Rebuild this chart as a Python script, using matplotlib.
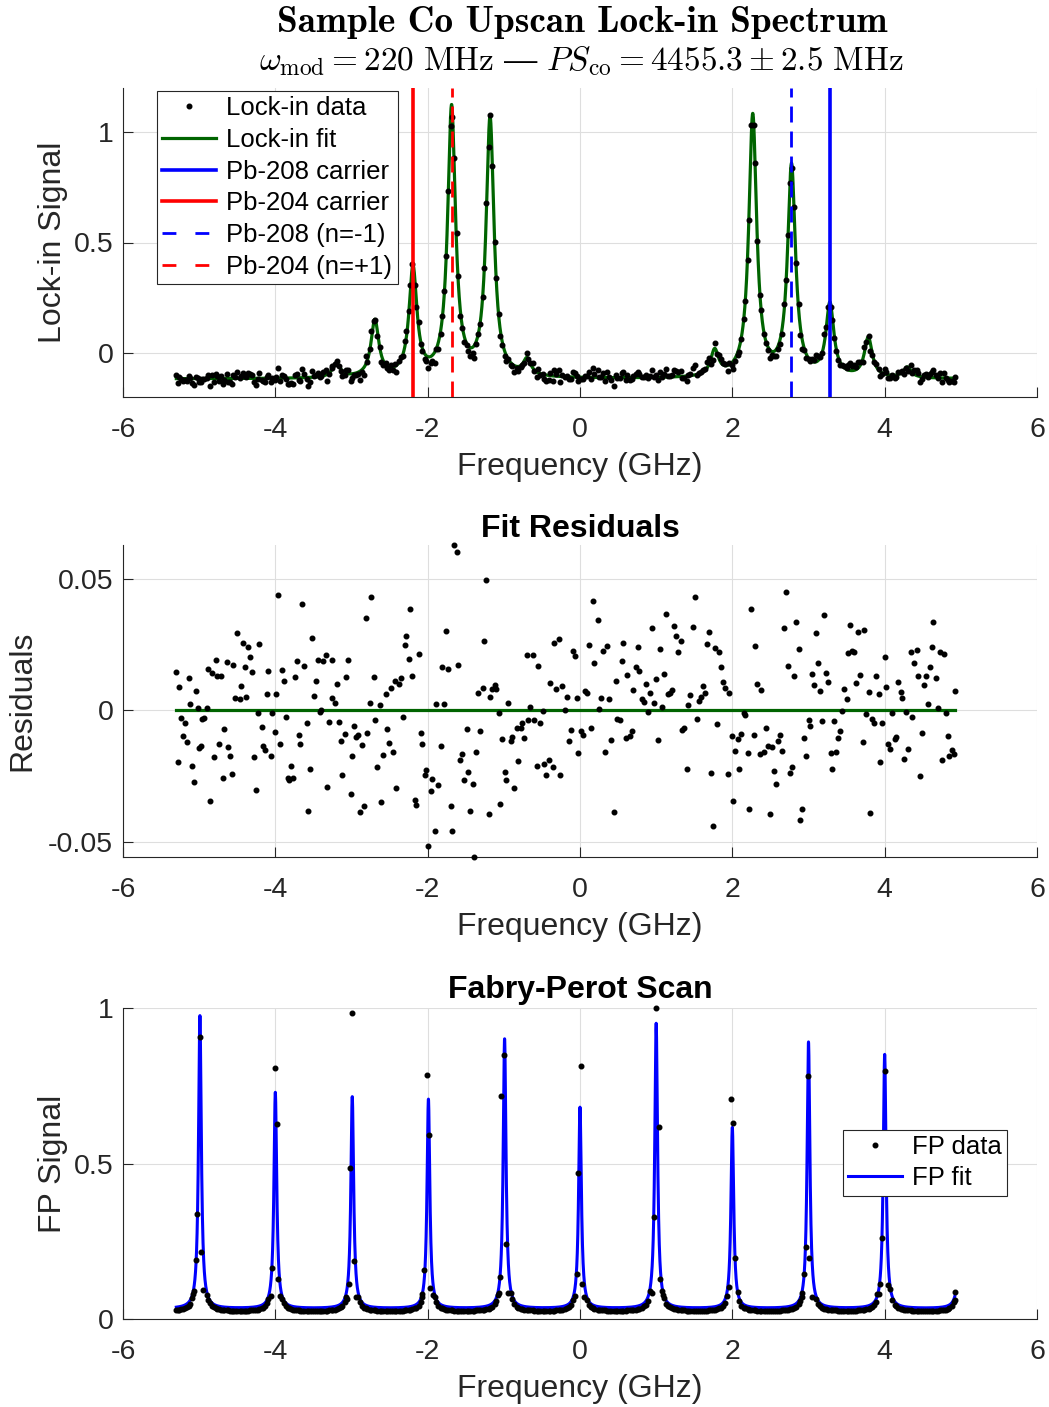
import numpy as np
import matplotlib
matplotlib.use("Agg")
import matplotlib.pyplot as plt
from matplotlib.lines import Line2D
from matplotlib.ticker import FuncFormatter

plt.rcParams["font.family"] = ["Liberation Sans", "DejaVu Sans"]
plt.rcParams["axes.unicode_minus"] = False
plt.rcParams["mathtext.fontset"] = "cm"
plt.rcParams["lines.scale_dashes"] = False

INK = "#262626"
GREEN = "#006400"

# scan frequencies (GHz)
freq = np.array([
    -5.30, -5.28, -5.26, -5.24, -5.21, -5.18, -5.16, -5.14, -5.12, -5.09, -5.07, -5.04,
    -5.02, -5.00, -4.98, -4.96, -4.93, -4.90, -4.88, -4.86, -4.83, -4.81, -4.78, -4.76,
    -4.74, -4.71, -4.69, -4.67, -4.64, -4.62, -4.60, -4.57, -4.55, -4.53, -4.50, -4.47,
    -4.45, -4.43, -4.40, -4.38, -4.36, -4.33, -4.31, -4.28, -4.26, -4.23, -4.21, -4.18,
    -4.16, -4.14, -4.11, -4.09, -4.06, -4.04, -4.01, -3.99, -3.97, -3.94, -3.91, -3.89,
    -3.86, -3.84, -3.82, -3.79, -3.77, -3.74, -3.72, -3.69, -3.67, -3.65, -3.62,
    -3.59, -3.57, -3.54, -3.52, -3.49, -3.47, -3.44, -3.42, -3.40, -3.37, -3.34, -3.32,
    -3.29, -3.26, -3.25, -3.22, -3.19, -3.17, -3.14, -3.12, -3.09, -3.07, -3.04, -3.01,
    -2.99, -2.97, -2.94, -2.91, -2.89, -2.86, -2.83, -2.81, -2.79, -2.76, -2.74, -2.71,
    -2.69, -2.66, -2.63, -2.61, -2.58, -2.55, -2.53, -2.51, -2.48, -2.45, -2.43, -2.41,
    -2.38, -2.35, -2.33, -2.30, -2.28, -2.25, -2.23, -2.20, -2.17, -2.15, -2.12, -2.09,
    -2.07, -2.04, -2.02, -1.99,
    -1.96, -1.94, -1.91, -1.89, -1.86, -1.83, -1.81, -1.78, -1.76, -1.73, -1.70, -1.68,
    -1.65, -1.62, -1.60, -1.57, -1.55, -1.52, -1.49, -1.47, -1.44, -1.41, -1.39, -1.36,
    -1.34, -1.31, -1.28, -1.26, -1.23, -1.20, -1.18, -1.15, -1.12, -1.10, -1.07, -1.05,
    -1.02, -0.99, -0.97, -0.94, -0.91, -0.89, -0.86, -0.83, -0.81, -0.78, -0.76, -0.73,
    -0.70, -0.68, -0.65, -0.62, -0.60, -0.57, -0.55, -0.52, -0.49, -0.47, -0.44, -0.41,
    -0.39, -0.36, -0.34, -0.31, -0.28, -0.26, -0.23,
    -0.20, -0.17, -0.15, -0.12, -0.09, -0.07, -0.04, -0.02, 0.01, 0.04, 0.06, 0.09,
    0.12, 0.14, 0.17, 0.19, 0.23, 0.25, 0.28, 0.30, 0.33, 0.36, 0.38, 0.41,
    0.44, 0.47, 0.49, 0.52, 0.55, 0.57, 0.60, 0.62, 0.65, 0.68, 0.70, 0.73,
    0.76, 0.78, 0.81, 0.84, 0.86, 0.89, 0.92, 0.94, 0.97, 1.00, 1.02, 1.05,
    1.08, 1.10, 1.13, 1.16, 1.18, 1.21, 1.23, 1.26, 1.29, 1.32, 1.34, 1.37,
    1.40, 1.42, 1.45, 1.48, 1.51,
    1.53, 1.56, 1.59, 1.61, 1.64, 1.67, 1.69, 1.72, 1.75, 1.77, 1.80, 1.83,
    1.85, 1.88, 1.90, 1.94, 1.96, 1.99, 2.01, 2.04, 2.07, 2.09, 2.12, 2.15,
    2.17, 2.20, 2.22, 2.25, 2.28, 2.30, 2.33, 2.36, 2.38, 2.41, 2.44, 2.47,
    2.49, 2.52, 2.55, 2.57, 2.60, 2.62, 2.65, 2.68, 2.70, 2.73, 2.76, 2.78,
    2.81, 2.84, 2.87, 2.89, 2.92, 2.94, 2.97, 3.00, 3.02, 3.05, 3.07, 3.10,
    3.13, 3.15, 3.18, 3.21,
    3.23, 3.26, 3.29, 3.31, 3.34, 3.36, 3.39, 3.42, 3.44, 3.47, 3.50, 3.52,
    3.55, 3.57, 3.60, 3.63, 3.65, 3.68, 3.71, 3.73, 3.76, 3.79, 3.81, 3.84,
    3.86, 3.89, 3.92, 3.94, 3.97, 4.00, 4.02, 4.05, 4.07, 4.10, 4.13, 4.15,
    4.18, 4.21, 4.23, 4.26, 4.28, 4.31, 4.34, 4.36, 4.39, 4.42, 4.44, 4.46,
    4.49, 4.52, 4.54, 4.57, 4.59, 4.62, 4.64, 4.67, 4.70, 4.72, 4.75, 4.78,
    4.80, 4.83, 4.85, 4.88, 4.91, 4.92,
])

# lock-in data minus fit, in units of 1e-3
resid_milli = np.array([
    14.4, -19.6, 8.9, -2.8, -9.9, -4.7, -12.1, 12.2, 2.2, -21.2,
    -27.2, 7.3, 0.8, -14.5, -13.5, -3.3, -3.1, 0.9, 15.5, -34.5,
    14.2, -17.9, 19.1, 13.0, -12.9, 12.9, -26.0, -7.0, 18.2, -14.1,
    -17.3, -24.4, 17.3, 4.7, 29.3, 4.1, 9.3, 25.6, 16.3, 5.1,
    24.0, 20.4, 14.5, -17.9, -30.4, -0.9, 25.3, -6.5, -13.6, -15.3,
    6.1, 14.9, -17.6, -0.9, -8.4, 6.2, 43.8, -13.0, 15.3, 11.2,
    -2.7, -26.0, -26.5, -21.4, -25.7, 12.5, 18.6, -9.3, -12.7, 40.6, 17.0,
    -4.7, -38.4, -22.5, 27.5, 5.5, 11.3, 19.2, -0.8, 0.0, 18.8,
    21.2, -29.4, -4.6, 19.1, 4.5, 2.7, 9.9, -4.6, -11.7, -24.8,
    -8.9, 12.6, 19.1, -31.9, -17.4, -6.2, -10.3, -9.3, -38.7, -13.2,
    -36.3, 35.1, -8.5, 2.9, 43.0, 12.6, -3.7, -21.5, 1.9, -35.0,
    -17.0, 6.2, -7.3, -12.6, 8.5, -15.9, 11.3, -29.6, 9.8, 12.2,
    -2.7, 24.7, 28.2, 19.5, 38.4, 13.1, -34.2, -36.1, 21.4, -8.7, -12.7, -24.6, -22.9, -51.9,
    -30.7, -26.2, -45.9, 2.5, -28.5, -13.6, 16.3, 2.5, 30.0, 15.8,
    -36.6, -45.9, 62.9, 60.4, 17.3, -19.1, -16.5, -26.6, -7.1, -23.5,
    -38.2, -28.0, -55.9, -15.8, 6.6, -8.0, 8.4, 26.5, 49.4, -39.7,
    5.1, 8.1, 9.7, 8.0, -1.0, -35.8, -11.1, -23.4, -26.6, 2.9,
    -11.8, -10.2, -29.8, -6.9, -19.2, -6.6, -5.0, -10.6, 21.2, -3.7,
    1.3, 21.0, -3.7, -21.1, 16.8, -4.8, -0.3, -20.6, -24.7, -19.1,
    10.3, -21.5, 25.6, 8.1, 27.1, -24.6, 9.3,
    0.0, 5.0, -11.8, -7.5, 22.4, 20.6, 4.7, -16.2, -7.9, -9.4,
    7.3, 6.5, 24.9, -6.7, 41.7, 17.8, 34.4, 0.6, 4.5, 22.6,
    -15.9, 24.6, 4.3, -11.3, -38.8, 11.1, -3.4, -3.9, 18.7, 25.4,
    -10.7, 13.4, -9.7, -7.8, 7.6, 16.4, 24.0, 15.1, 4.2, 3.2,
    9.8, -0.5, 6.6, 31.4, 2.9, 11.7, -11.3, 23.4, 1.4, 13.7,
    36.5, 6.0, 6.7, 7.5, 31.9, 28.1, 22.3, 26.5, -7.4, -6.7,
    -22.3, 1.8, 5.9, 31.8, 43.0,
    -3.4, 3.6, 5.2, 9.4, 6.4, 25.3, 29.9, -23.9, -44.0, 23.7,
    -5.1, 22.3, 16.3, 10.9, 8.3, -24.4, 6.4, -9.8, -34.4, -15.6,
    -11.1, -22.3, -9.2, -1.0, -1.9, -16.2, -37.5, 38.6, -9.4, 24.4,
    10.1, -16.7, 7.8, -16.0, -6.6, -13.6, -39.7, -14.2, -23.3, -28.1,
    -11.6, -9.4, -15.6, 31.2, 44.9, 17.0, -24.0, -21.5, 13.0, 33.5,
    23.4, -41.9, -37.7, -10.7, -17.6, -3.8, -6.1, 13.7, 9.7, 29.4,
    18.1, 7.4, -4.1, 36.4,
    14.2, 10.6, -16.3, -22.3, -4.1, -15.8, -10.7, -7.9, -0.3, 8.0,
    4.3, 21.6, 32.4, 22.6, 22.1, 10.3, 29.8, 13.5, -12.3, 30.4,
    -1.4, 6.9, -39.1, -3.3, -4.7, 13.1, 6.1, -19.8, -4.8, 20.4,
    8.8, -12.9, -14.6, -1.0, -11.1, -10.1, 10.7, 7.0, 4.6, -18.6,
    -0.8, -14.8, 22.1, -2.5, 17.8, 23.0, 13.2, -25.2, -8.8, 9.5,
    12.9, 2.3, 16.4, 24.0, 33.6, 12.1, 0.8, 22.1, -19.0, 21.4,
    -1.0, -9.7, -17.4, -15.0, -16.7, 7.4,
])

# lock-in fit: Lorentzian lines on a flat offset
lockin_centers = [-3.198, -2.693, -2.193, -1.686, -1.181, -0.695,
                  1.768, 2.268, 2.777, 3.281, 3.785, 4.297]
lockin_amps = [0.065, 0.255, 0.489, 1.217, 1.169, 0.072,
               0.115, 1.185, 0.954, 0.327, 0.179, 0.048]
lockin_hwhm = 0.062
lockin_offset = -0.118

# carrier and sideband positions (GHz)
pb208_carrier = 3.281
pb204_carrier = -2.190
pb208_side = 2.775
pb204_side = -1.686

# Fabry-Perot fit
fp_centers = [-4.99, -4.00, -2.99, -1.99, -0.99, 0.00, 1.00, 2.00, 3.00, 4.00, 5.00]
fp_amps = [0.942, 0.695, 0.681, 0.673, 0.867, 0.647, 0.917, 0.582, 0.857, 0.817, 0.55]
fp_hwhm = 0.022
fp_offset = 0.033
fp_floor_shift = -0.010   # off-peak FP samples sit just under the fit

# FP samples on the transmission peaks
fp_peak_freq = [-5.078, -5.043, -5.025, -4.994, -4.973, -4.955,
                -4.061, -4.039, -4.008, -3.982, -3.964, -3.934,
                -3.053, -3.031, -3.018, -2.987, -2.965, -2.943,
                -2.071, -2.045, -2.014, -1.979, -1.970, -1.936,
                -1.081, -1.050, -1.036, -0.993, -0.970, -0.944,
                -0.072, -0.042, -0.020, 0.007, 0.024, 0.055,
                0.944, 0.970, 0.997, 1.032, 1.054, 1.085,
                1.930, 1.962, 1.983, 2.009, 2.040, 2.071,
                2.917, 2.939, 2.965, 2.996, 3.013, 3.040,
                3.903, 3.938, 3.965, 4.000, 4.047, 4.924]
fp_peak_val = [0.081, 0.190, 0.338, 0.907, 0.215, 0.094,
               0.075, 0.163, 0.806, 0.628, 0.128, 0.075,
               0.064, 0.112, 0.484, 0.985, 0.188, 0.072,
               0.080, 0.156, 0.783, 0.591, 0.099, 0.077,
               0.077, 0.134, 0.718, 0.848, 0.240, 0.085,
               0.073, 0.145, 0.470, 0.812, 0.113, 0.071,
               0.082, 0.327, 1.000, 0.617, 0.128, 0.077,
               0.073, 0.104, 0.709, 0.629, 0.196, 0.088,
               0.072, 0.144, 0.232, 0.781, 0.195, 0.072,
               0.080, 0.114, 0.262, 0.799, 0.110, 0.088]


def lorentz_sum(x, centers, amps, hwhm, offset):
    x = np.asarray(x, dtype=float)[:, None]
    c = np.asarray(centers)[None, :]
    a = np.asarray(amps)[None, :]
    return offset + (a * hwhm**2 / ((x - c)**2 + hwhm**2)).sum(axis=1)


resid = resid_milli * 1e-3
fit_x = np.linspace(freq.min(), freq.max(), 6000)
lockin_fit = lorentz_sum(fit_x, lockin_centers, lockin_amps, lockin_hwhm, lockin_offset)
lockin_data = lorentz_sum(freq, lockin_centers, lockin_amps, lockin_hwhm, lockin_offset) + resid

fp_fit = lorentz_sum(fit_x, fp_centers, fp_amps, fp_hwhm, fp_offset)
off_peak = np.min(np.abs(freq[:, None] - np.array(fp_centers)[None, :]), axis=1) > 0.07
fp_floor = lorentz_sum(freq, fp_centers, fp_amps, fp_hwhm, fp_offset) + fp_floor_shift
fp_x = np.concatenate([freq[off_peak], fp_peak_freq])
fp_y = np.concatenate([fp_floor[off_peak], fp_peak_val])

W, H = 1049, 1407
fig = plt.figure(figsize=(W / 100, H / 100), dpi=100)


def add_panel(top, bottom):
    return fig.add_axes([123 / W, 1 - bottom / H, 914 / W, (bottom - top) / H])


def style(ax):
    ax.set_xlim(-6, 6)
    ax.set_xticks(np.arange(-6, 7, 2))
    ax.grid(True, color="#dedede", linewidth=0.8)
    ax.set_axisbelow(True)
    for s in ("top", "right"):
        ax.spines[s].set_visible(False)
    for s in ("left", "bottom"):
        ax.spines[s].set_color(INK)
        ax.spines[s].set_linewidth(0.8)
    ax.tick_params(direction="in", length=7, width=0.8, colors=INK, labelsize=20.5)
    ax.tick_params(axis="x", pad=14.3)
    ax.tick_params(axis="y", pad=7)
    fmt = FuncFormatter(lambda v, p: f"{v:g}")
    ax.xaxis.set_major_formatter(fmt)
    ax.yaxis.set_major_formatter(fmt)
    ax.set_xlabel("Frequency (GHz)", fontsize=23, color=INK, labelpad=6.3)


dash_plot = (0, (11.5, 6.5))
dash_legend = (0, (10, 13.7))
dot = dict(marker="o", linestyle="none", color="k", markersize=3.3)
leg_style = dict(borderaxespad=0, fontsize=18.5, handlelength=2.1, handletextpad=0.4,
                 labelspacing=0.3, borderpad=0.2, fancybox=False, framealpha=1,
                 edgecolor=INK, numpoints=1)

# lock-in spectrum
ax1 = add_panel(88, 397)
style(ax1)
ax1.plot(fit_x, lockin_fit, color=GREEN, lw=2.3, zorder=3)
ax1.plot(freq, lockin_data, zorder=4, **dot)
ax1.axvline(pb208_carrier, color="b", lw=2.6, zorder=5)
ax1.axvline(pb204_carrier, color="r", lw=2.6, zorder=5)
ax1.axvline(pb208_side, color="b", lw=2.0, ls=dash_plot, zorder=5)
ax1.axvline(pb204_side, color="r", lw=2.0, ls=dash_plot, zorder=5)
ax1.set_ylim(-0.2, 1.2)
ax1.set_yticks([0, 0.5, 1])
ax1.set_ylabel("Lock-in Signal", fontsize=23, color=INK, labelpad=4)

handles = [
    Line2D([], [], **dot),
    Line2D([], [], color=GREEN, lw=2.3),
    Line2D([], [], color="b", lw=2.6),
    Line2D([], [], color="r", lw=2.6),
    Line2D([], [], color="b", lw=2.0, ls=dash_legend),
    Line2D([], [], color="r", lw=2.0, ls=dash_legend),
]
labels = ["Lock-in data", "Lock-in fit", "Pb-208 carrier", "Pb-204 carrier",
          "Pb-208 (n=-1)", "Pb-204 (n=+1)"]
leg = ax1.legend(handles, labels, loc="upper left",
                 bbox_to_anchor=(34 / 914, 306 / 309), **leg_style)
leg.get_frame().set_linewidth(0.8)
leg.set_zorder(10)

# residuals
ax2 = add_panel(545, 857)
style(ax2)
ax2.plot(freq, np.zeros_like(freq), color=GREEN, lw=2.3, zorder=3)
ax2.plot(freq, resid, zorder=4, clip_on=False, **dot)
ax2.set_ylim(resid.min(), resid.max())
ax2.set_yticks([-0.05, 0, 0.05])
ax2.set_ylabel("Residuals", fontsize=23, color=INK, labelpad=7.5)
ax2.set_title("Fit Residuals", fontsize=23, fontweight="bold", color="k", pad=5.5)

# Fabry-Perot scan
ax3 = add_panel(1008, 1319)
style(ax3)
ax3.plot(fit_x, fp_fit, color="b", lw=2.2, zorder=3)
ax3.plot(fp_x, fp_y, zorder=4, clip_on=False, **dot)
ax3.set_ylim(0, 1)
ax3.set_yticks([0, 0.5, 1])
ax3.set_ylabel("FP Signal", fontsize=23, color=INK, labelpad=4)
ax3.set_title("Fabry-Perot Scan", fontsize=23, fontweight="bold", color="k", pad=7.5)
leg3 = ax3.legend([Line2D([], [], **dot), Line2D([], [], color="b", lw=2.2)],
                  ["FP data", "FP fit"], loc="center right",
                  bbox_to_anchor=(884 / 914, 0.503), **leg_style)
leg3.get_frame().set_linewidth(0.8)
leg3.set_zorder(10)

# figure title
fig.text(582 / W, 1 - 32 / H, "Sample Co Upscan Lock-in Spectrum",
         family=["cmb10", "DejaVu Serif"], fontsize=26.8, ha="center", va="baseline")
fig.text(581.5 / W, 1 - 70 / H,
         r"$\omega_{\rm mod} = 220\ {\rm MHz}\ \mathrm{—}\ PS_{\rm co} = 4455.3 \pm 2.5\ {\rm MHz}$",
         fontsize=24, ha="center", va="baseline")

fig.savefig("out.png", dpi=100)
